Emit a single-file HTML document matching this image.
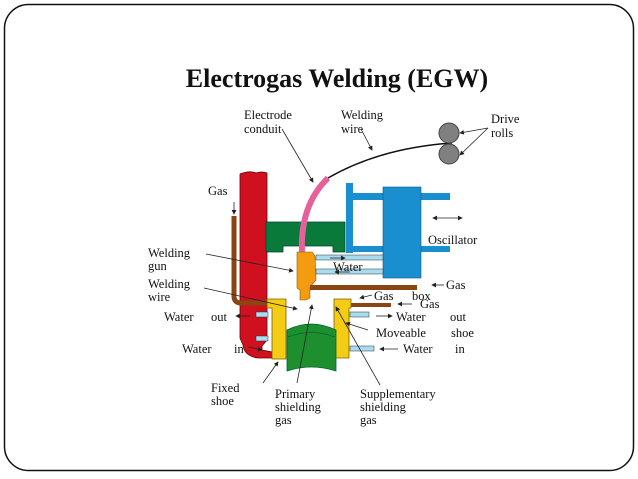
<!DOCTYPE html>
<html><head><style>
body{margin:0;background:#fff;}
svg{display:block;}
text{font-family:"Liberation Serif",serif;fill:#111;}
</style></head><body>
<svg width="638" height="479" viewBox="0 0 638 479" xmlns="http://www.w3.org/2000/svg">
<defs>
<marker id="a" markerWidth="6" markerHeight="6" refX="5" refY="3" orient="auto"><path d="M0 0 L6 3 L0 6 Z" fill="#222"/></marker>
<marker id="b" markerWidth="6" markerHeight="6" refX="1" refY="3" orient="auto"><path d="M6 0 L0 3 L6 6 Z" fill="#222"/></marker>
</defs>
<rect x="4.5" y="4.5" width="629" height="466" rx="24" fill="#fff" stroke="#111" stroke-width="1.5"/>
<text x="337" y="87" font-size="26" font-weight="bold" text-anchor="middle">Electrogas Welding (EGW)</text>

<path d="M328 178 Q380 148 452 143" fill="none" stroke="#111" stroke-width="1.5"/>
<circle cx="449" cy="133" r="10" fill="#808080" stroke="#444"/>
<circle cx="449" cy="154" r="10" fill="#808080" stroke="#444"/>
<path d="M240 174 Q250 170 256 173 Q262 171 267 173 L267 340 L262 346 L262 350 L272 352 L272 358 L258 358 Q244 356 243 345 L240 338 Z" fill="#d0101e" stroke="#600" stroke-width="0.8"/>
<path d="M234 216 L234 296 Q234 303 241 303 L268 303" fill="none" stroke="#8b4513" stroke-width="5"/>
<path d="M266 222 L345 222 L345 252 L333 252 L333 246 L283 246 L283 252 L270 252 L266 252 Z" fill="#0a7a3a" stroke="#043" stroke-width="0.8"/>
<path d="M302 252 Q300 205 328 178" fill="none" stroke="#e8609a" stroke-width="6"/>
<rect x="346" y="183" width="7" height="70" fill="#1a8fd0"/>
<rect x="353" y="193" width="97" height="7" fill="#1a8fd0"/>
<rect x="353" y="246" width="97" height="6" fill="#1a8fd0"/>
<rect x="383" y="187" width="38" height="91" fill="#1a8fd0" stroke="#0a5a8a" stroke-width="0.6"/>
<rect x="316" y="255" width="67" height="5" fill="#a8dcf0" stroke="#333" stroke-width="0.5"/>
<rect x="316" y="269" width="67" height="5" fill="#a8dcf0" stroke="#333" stroke-width="0.5"/>
<path d="M297 252 L312 252 L315 256 L316 280 L310 287 L310 298 L306 300 L300 300 L300 290 L297 288 Z" fill="#f39c12" stroke="#8a5a00" stroke-width="0.6"/>
<rect x="310" y="285" width="107" height="5" fill="#8b4513"/>
<rect x="350" y="303" width="41" height="4" fill="#8b4513"/>
<rect x="256" y="312" width="12" height="5" fill="#a8dcf0" stroke="#333" stroke-width="0.5"/>
<rect x="256" y="336" width="12" height="5" fill="#a8dcf0" stroke="#333" stroke-width="0.5"/>
<rect x="350" y="312" width="19" height="5" fill="#a8dcf0" stroke="#333" stroke-width="0.5"/>
<rect x="350" y="346" width="24" height="5" fill="#a8dcf0" stroke="#333" stroke-width="0.5"/>
<path d="M267 299 L286 299 L286 359 L272 359 L272 308 L267 308 Z" fill="#f5cc14" stroke="#7a6000" stroke-width="0.8"/>
<path d="M334 299 L351 299 L351 308 L349 308 L349 358 L334 358 Z" fill="#f5cc14" stroke="#7a6000" stroke-width="0.8"/>
<path d="M287 330 Q311 318 336 330 L336 371 Q311 363 287 371 Z" fill="#1e8f2e" stroke="#063" stroke-width="0.8"/>
<path d="M288 337 Q311 328 335 337" fill="none" stroke="#063" stroke-width="0.8"/>

<g stroke="#222" stroke-width="0.8" fill="none">
<line x1="282" y1="129" x2="313" y2="182" marker-end="url(#a)"/>
<line x1="361" y1="129" x2="372" y2="150" marker-end="url(#a)"/>
<line x1="488" y1="128" x2="460" y2="133" marker-end="url(#a)"/>
<line x1="488" y1="128" x2="460" y2="155" marker-end="url(#a)"/>
<line x1="234" y1="202" x2="234" y2="214" marker-end="url(#a)"/>
<line x1="206" y1="254" x2="293" y2="271" marker-end="url(#a)"/>
<line x1="204" y1="288" x2="297" y2="309" marker-end="url(#a)"/>
<line x1="263" y1="383" x2="278" y2="362" marker-end="url(#a)"/>
<line x1="297" y1="383" x2="312" y2="305" marker-end="url(#a)"/>
<line x1="380" y1="385" x2="336" y2="307" marker-end="url(#a)"/>
<line x1="368" y1="330" x2="346" y2="323" marker-end="url(#a)"/>
<line x1="433" y1="218" x2="462" y2="218" marker-start="url(#b)" marker-end="url(#a)"/>
<line x1="444" y1="285" x2="432" y2="285" marker-end="url(#a)"/>
<line x1="372" y1="295" x2="360" y2="298" marker-end="url(#a)"/>
<line x1="412" y1="304" x2="398" y2="304" marker-end="url(#a)"/>
<line x1="376" y1="316" x2="392" y2="316" marker-end="url(#a)"/>
<line x1="398" y1="349" x2="380" y2="349" marker-end="url(#a)"/>
<line x1="250" y1="316" x2="236" y2="316" marker-end="url(#a)"/>
<line x1="248" y1="347" x2="262" y2="350" marker-end="url(#a)"/>
<line x1="330" y1="258" x2="345" y2="258" marker-end="url(#a)"/>
<line x1="350" y1="272" x2="335" y2="272" marker-end="url(#a)"/>
</g>

<g font-size="12.5">
<text x="244" y="119">Electrode</text>
<text x="244" y="133">conduit</text>
<text x="341" y="119">Welding</text>
<text x="341" y="133">wire</text>
<text x="491" y="123">Drive</text>
<text x="491" y="137">rolls</text>
<text x="208" y="195">Gas</text>
<text x="428" y="244">Oscillator</text>
<text x="148" y="257">Welding</text>
<text x="148" y="270">gun</text>
<text x="333" y="271">Water</text>
<text x="446" y="289">Gas</text>
<text x="148" y="288">Welding</text>
<text x="148" y="301">wire</text>
<text x="374" y="300">Gas</text>
<text x="412" y="300">box</text>
<text x="420" y="308">Gas</text>
<text x="164" y="321">Water</text>
<text x="211" y="321">out</text>
<text x="396" y="321">Water</text>
<text x="450" y="321">out</text>
<text x="376" y="337">Moveable</text>
<text x="451" y="337">shoe</text>
<text x="182" y="353">Water</text>
<text x="234" y="353">in</text>
<text x="403" y="353">Water</text>
<text x="455" y="353">in</text>
<text x="211" y="392">Fixed</text>
<text x="211" y="405">shoe</text>
<text x="275" y="398">Primary</text>
<text x="275" y="411">shielding</text>
<text x="275" y="424">gas</text>
<text x="360" y="398">Supplementary</text>
<text x="360" y="411">shielding</text>
<text x="360" y="424">gas</text>
</g>
</svg>
</body></html>
